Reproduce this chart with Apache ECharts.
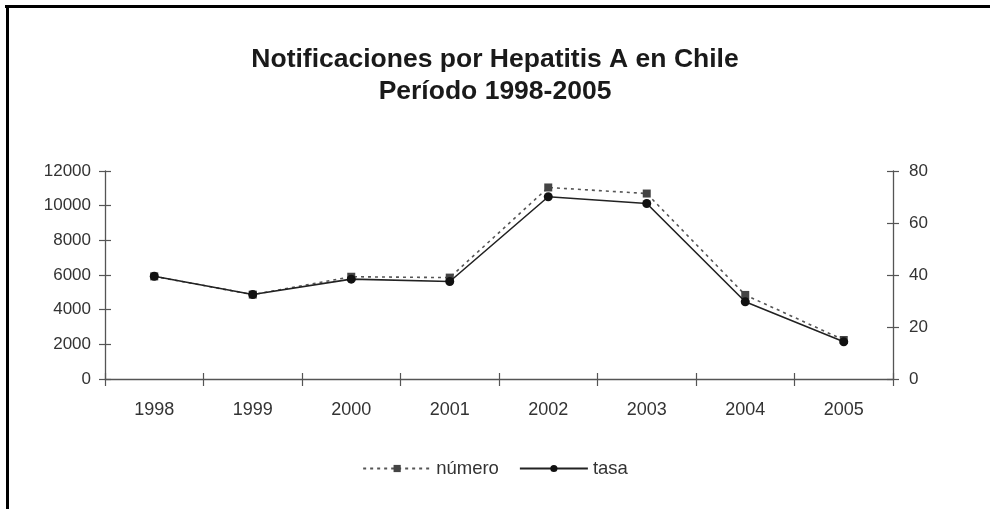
<!DOCTYPE html>
<html>
<head>
<meta charset="utf-8">
<script src="https://cdn.jsdelivr.net/npm/echarts@6/dist/echarts.min.js"></script>
<style>
  html, body { margin: 0; padding: 0; background: #fff; }
  #chart { width: 990px; height: 509px; }
</style>
</head>
<body>
<div id="chart"></div>
<script>
// Hepatitis A notifications in Chile, 1998-2005
const years = ['1998', '1999', '2000', '2001', '2002', '2003', '2004', '2005'];
// number of notified cases (left axis)
const numero = [5920, 4870, 5900, 5850, 11050, 10700, 4850, 2250];
// rate per 100,000 inhabitants (right axis)
const tasa = [39.5, 32.5, 38.4, 37.5, 70.1, 67.5, 29.7, 14.3];

const leftTicks = { min: 0, max: 12000, interval: 2000 };
const rightTicks = { min: 0, max: 80, interval: 20 };

const axisGray = '#555';
const textGray = '#333';
const font = 'Liberation Sans, Arial, Helvetica, sans-serif';

const chart = echarts.init(document.getElementById('chart'), null, { renderer: 'canvas' });

// extra axis that only draws the inner half of the crossing tick marks
function hiddenTickAxis(base) {
  return Object.assign({}, base, {
    axisLine: { show: false },
    axisLabel: { show: false },
    splitLine: { show: false },
    axisTick: { show: true, inside: true, length: 6, lineStyle: { color: axisGray, width: 1.2 } }
  });
}

const plainNumber = v => String(v);

const xBase = { type: 'category', data: years, boundaryGap: true, position: 'bottom' };
const yLeftBase = Object.assign({ type: 'value', position: 'left' }, leftTicks);
const yRightBase = Object.assign({ type: 'value', position: 'right' }, rightTicks);

chart.setOption({
  backgroundColor: '#fff',
  animation: false,
  title: {
    text: 'Notificaciones por Hepatitis A en Chile\nPeríodo 1998-2005',
    left: 'center',
    top: 39,
    textStyle: {
      fontFamily: font,
      fontSize: 26.5,
      fontWeight: 'bold',
      color: '#1a1a1a',
      lineHeight: 32,
      align: 'center'
    }
  },
  grid: { left: 105, right: 97, top: 171, bottom: 130 },
  legend: {
    bottom: 26,
    left: 'center',
    itemWidth: 68,
    itemHeight: 9,
    itemGap: 20,
    textStyle: { fontFamily: font, fontSize: 18.5, color: textGray },
    data: ['número', 'tasa']
  },
  xAxis: [
    Object.assign({}, xBase, {
      axisLine: { show: true, lineStyle: { color: axisGray, width: 1.3 } },
      axisTick: { show: true, inside: false, length: 7, lineStyle: { color: axisGray, width: 1.2 } },
      axisLabel: { fontFamily: font, fontSize: 18, color: textGray, margin: 22 },
      splitLine: { show: false }
    }),
    hiddenTickAxis(xBase)
  ],
  yAxis: [
    Object.assign({}, yLeftBase, {
      axisLine: { show: true, lineStyle: { color: axisGray, width: 1.3 } },
      axisTick: { show: true, inside: false, length: 6, lineStyle: { color: axisGray, width: 1.2 } },
      axisLabel: { fontFamily: font, fontSize: 17, color: textGray, margin: 14, formatter: plainNumber },
      splitLine: { show: false }
    }),
    Object.assign({}, yRightBase, {
      axisLine: { show: true, lineStyle: { color: axisGray, width: 1.3 } },
      axisTick: { show: true, inside: false, length: 6, lineStyle: { color: axisGray, width: 1.2 } },
      axisLabel: { fontFamily: font, fontSize: 17, color: textGray, margin: 16, formatter: plainNumber },
      splitLine: { show: false }
    }),
    hiddenTickAxis(yLeftBase),
    hiddenTickAxis(yRightBase)
  ],
  series: [
    {
      name: 'número',
      type: 'line',
      xAxisIndex: 0,
      yAxisIndex: 0,
      data: numero,
      symbol: 'rect',
      symbolSize: 8,
      itemStyle: { color: '#444' },
      lineStyle: { color: '#555', width: 1.6, type: [3, 4] },
      z: 2
    },
    {
      name: 'tasa',
      type: 'line',
      xAxisIndex: 0,
      yAxisIndex: 1,
      data: tasa,
      symbol: 'circle',
      symbolSize: 9,
      itemStyle: { color: '#111' },
      lineStyle: { color: '#222', width: 1.6, type: 'solid' },
      z: 3
    }
  ],
  graphic: [
    { type: 'rect', left: 5, top: 5, shape: { width: 985, height: 3 }, style: { fill: '#000' } },
    { type: 'rect', left: 6, top: 5, shape: { width: 3, height: 504 }, style: { fill: '#000' } }
  ]
});
</script>
</body>
</html>
